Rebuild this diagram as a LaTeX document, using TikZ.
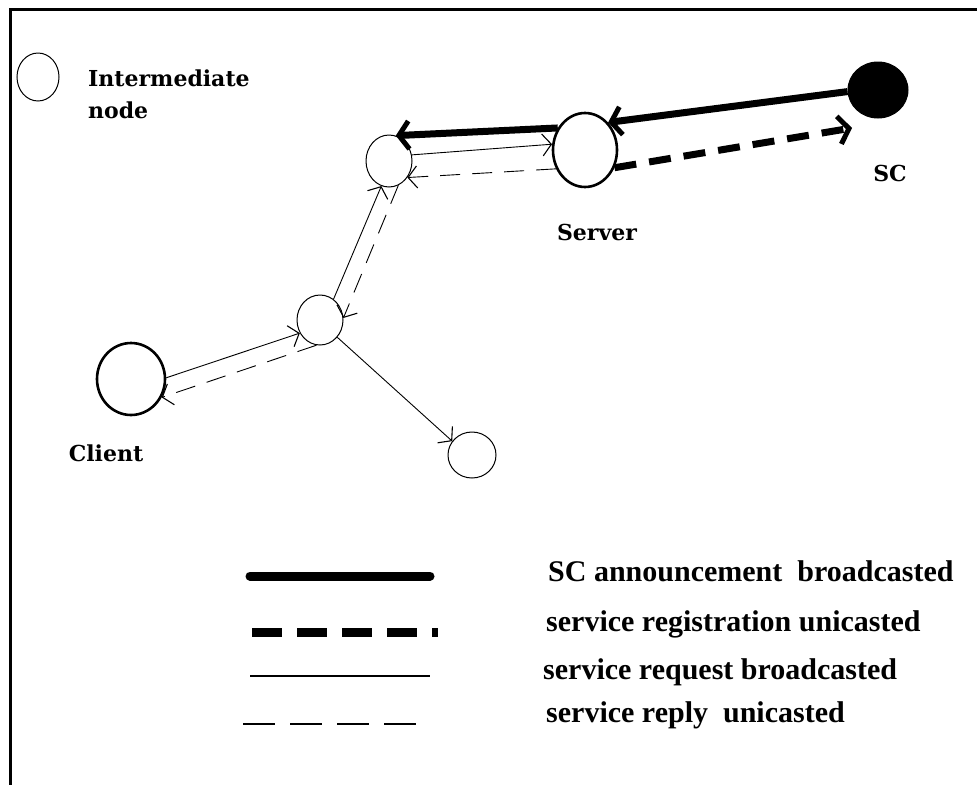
\documentclass[tikz,border=0pt]{standalone}
\usepackage{fontspec}
\setmainfont{DejaVu Serif}
\newfontfamily\legfont{Liberation Serif}
\usetikzlibrary{arrows.meta,shapes.geometric}

\tikzset{
  thinnode/.style={ellipse,draw,line width=1pt,inner sep=0pt},
  boldnode/.style={ellipse,draw,line width=2.6pt,inner sep=0pt},
  lbl/.style={font=\fontsize{22}{26}\selectfont\bfseries,inner sep=0pt},
  legtxt/.style={font=\legfont\fontsize{30}{34}\selectfont\bfseries,anchor=west,inner sep=0pt},
  announce/.style={line width=7pt,-{Straight Barb[length=10pt,width=28pt,line width=5pt]}},
  reg/.style={line width=7pt,dash pattern=on 22pt off 13pt,-{Straight Barb[length=10pt,width=28pt,line width=5pt]}},
  req/.style={line width=0.9pt,-{Straight Barb[length=9pt,width=22pt,line width=1.1pt]}},
  rep/.style={line width=0.9pt,dash pattern=on 20pt off 12pt,-{Straight Barb[length=9pt,width=22pt,line width=1.1pt]}},
}

\begin{document}
\begin{tikzpicture}[x=1pt,y=-1pt]
\useasboundingbox (0,0) rectangle (977,785);
% frame (top and left sides only)
\draw[line width=3pt] (977,9) -- (10,9) -- (10,785);

% legend entry for intermediate nodes
\node[thinnode,minimum width=42pt,minimum height=48pt] (legnode) at (38,77) {};
\node[lbl,anchor=west] (legname1) at (88,78) {Intermediate};
\node[lbl,anchor=west] (legname2) at (88,110) {node};

% network nodes
\node[thinnode,minimum width=46pt,minimum height=52pt] (A) at (389,161) {};
\node[boldnode,minimum width=64pt,minimum height=74pt] (S) at (585,150) {};
\node[ellipse,fill=black,draw,line width=1pt,minimum width=60pt,minimum height=56pt,inner sep=0pt] (SC) at (878,90) {};
\node[thinnode,minimum width=46pt,minimum height=50pt] (B) at (320,320) {};
\node[boldnode,minimum width=68pt,minimum height=72pt] (Cl) at (131,379) {};
\node[thinnode,minimum width=48pt,minimum height=46pt] (C) at (472,455) {};

% node labels
\node[lbl] (Slbl) at (597,232) {Server};
\node[lbl] (SClbl) at (890,173) {SC};
\node[lbl] (Cllbl) at (106,453) {Client};

% SC announcement, forwarded by the server
\draw[announce] (SC.183) -- (S.50);
\draw[announce] (S.141) -- (A.75);
% service registration towards SC
\draw[reg] (S.-31) -- ([shift={(-26,38)}]SC.center);

% service request (solid) and reply (dashed)
\draw[req] (Cl.2) -- (B.213);
\draw[req] (B.57) -- (A.253);
\draw[req] (A.15) -- (S.170);
\draw[req] (B.-45) -- (C.145);
\draw[rep] (S.213) -- (A.318);
\draw[rep] (A.291) -- (B.5);
\draw[rep] (B.262) -- (Cl.329);

% legend
\coordinate (l1a) at (250,576); \coordinate (l1b) at (430,576);
\coordinate (l2a) at (252,632); \coordinate (l2b) at (438,632);
\coordinate (l3a) at (250,676); \coordinate (l3b) at (430,676);
\coordinate (l4a) at (243,724); \coordinate (l4b) at (430,724);
\draw[line width=9pt,line cap=round] (l1a) -- (l1b);
\draw[line width=9pt,dash pattern=on 30pt off 15pt] (l2a) -- (l2b);
\draw[line width=1.5pt] (l3a) -- (l3b);
\draw[line width=1.5pt,dash pattern=on 32pt off 15pt] (l4a) -- (l4b);
\node[legtxt] (t1) at (548,571) {SC announcement\ \ broadcasted};
\node[legtxt] (t2) at (546,624) {service registration unicasted};
\node[legtxt] (t3) at (543,672) {service request broadcasted};
\node[legtxt] (t4) at (546,715) {service reply\ \ unicasted};
\end{tikzpicture}
\end{document}
